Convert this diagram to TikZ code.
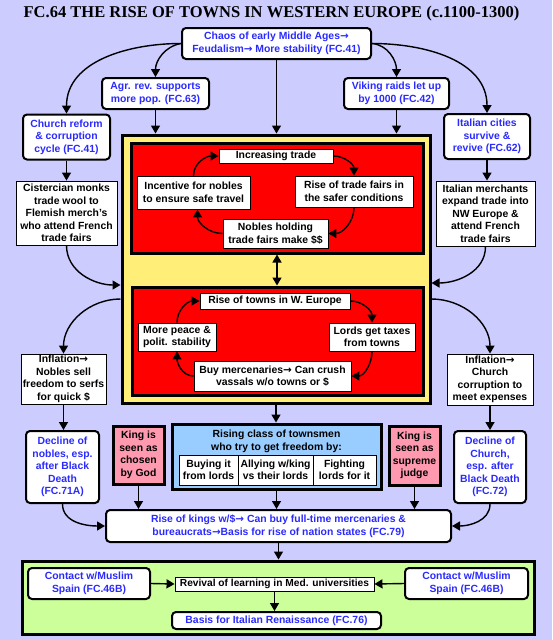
\documentclass[tikz,border=0pt]{standalone}
\usepackage{fontspec}
\setmainfont{Liberation Serif}
\setsansfont{Liberation Sans}
\newfontfamily\arrfont{DejaVu Sans}
\newcommand{\rarr}{{\arrfont\bfseries →}}
\usetikzlibrary{arrows.meta,calc}
\definecolor{bgc}{HTML}{CCCCFF}
\definecolor{yel}{HTML}{FFEE77}
\definecolor{redb}{HTML}{FF0000}
\definecolor{blueb}{HTML}{99CCFF}
\definecolor{pinkb}{HTML}{FF99B0}
\definecolor{greenb}{HTML}{CCFF99}
\definecolor{bluet}{HTML}{2A2AFF}
\tikzset{
 base/.style={align=center, inner sep=0pt, font=\sffamily\bfseries\fontsize{10.4}{12.5}\selectfont},
 sz/.style 2 args={minimum width=#1pt, minimum height=#2pt},
 rbox/.style={base, draw, rounded corners=4pt, line width=2pt, fill=white, text=bluet},
 sbox/.style={base, draw, line width=0.9pt, fill=white, text=black},
 bigbox/.style={draw, line width=3pt, inner sep=0pt},
 arr/.style={line width=1.4pt, -{Triangle[length=8pt,width=9pt]}},
 darr/.style={line width=1.4pt, {Triangle[length=8pt,width=9pt]}-{Triangle[length=8pt,width=9pt]}},
}
\begin{document}
\begin{tikzpicture}[x=1pt,y=-1pt]
\useasboundingbox (0,0) rectangle (552,640);
\fill[bgc] (0,0) rectangle (552,640);
\node[font=\rmfamily\bfseries\fontsize{16.5}{18}\selectfont, inner sep=0pt] (title) at (271.5,14) {FC.64 THE RISE OF TOWNS IN WESTERN EUROPE (c.1100-1300)};

% top
\node[rbox, sz={189}{31}] (top) at (276.5,43.5) {Chaos of early Middle Ages\rarr\\Feudalism\rarr\ More stability (FC.41)};
\node[rbox, sz={107}{31}] (agr) at (155.5,93.5) {Agr. rev. supports\\more pop. (FC.63)};
\node[rbox, sz={105}{31}] (vik) at (396.5,93.5) {Viking raids let up\\by 1000 (FC.42)};
\node[rbox, sz={87}{45}] (church) at (66.5,137) {Church reform\\\& corruption\\cycle (FC.41)};
\node[rbox, sz={86}{45}] (ital) at (487,136.5) {Italian cities\\survive \&\\revive (FC.62)};
\node[sbox, sz={101}{64}] (cist) at (66.5,213) {Cistercian monks\\trade wool to\\Flemish merch's\\who attend French\\trade fairs};
\node[sbox, sz={99}{65}] (merch) at (485.5,213.5) {Italian merchants\\expand trade into\\NW Europe \&\\attend French\\trade fairs};

% central boxes
\node[bigbox, fill=yel, sz={308}{268}] (yellow) at (276,269) {};
\node[bigbox, fill=redb, sz={292}{110}] (red1) at (277,198) {};
\node[bigbox, fill=redb, sz={291}{108}] (red2) at (277.5,341) {};

\node[sbox, sz={114}{14}] (inc) at (276,156) {Increasing trade};
\node[sbox, sz={113}{33}] (incent) at (193.5,192.5) {Incentive for nobles\\to ensure safe travel};
\node[sbox, sz={118}{31}] (fairs) at (354,191.5) {Rise of trade fairs in\\the safer conditions};
\node[sbox, sz={105}{29}] (nobles) at (275.5,233.5) {Nobles holding\\trade fairs make \$\$};

\node[sbox, sz={150}{16}] (towns) at (275,301) {Rise of towns in W. Europe};
\node[sbox, sz={78}{28}] (peace) at (177,337) {More peace \&\\polit. stability};
\node[sbox, sz={86}{28}] (lords) at (372,337) {Lords get taxes\\from towns};
\node[sbox, sz={157}{30}] (merc) at (272.5,376) {Buy mercenaries\rarr\ Can crush\\vassals w/o towns or \$};

% sides lower
\node[sbox, sz={85}{50}] (inflN) at (63.5,379) {Inflation\rarr\\Nobles sell\\freedom to serfs\\for quick \$};
\node[sbox, sz={86}{51}] (inflC) at (490,379.5) {Inflation\rarr\\Church\\corruption to\\meet expenses};
\node[rbox, sz={73}{72}] (decN) at (62.5,467) {Decline of\\nobles, esp.\\after Black\\Death\\(FC.71A)};
\node[rbox, sz={72}{72}] (decC) at (490,467) {Decline of\\Church,\\esp. after\\Black Death\\(FC.72)};
\node[bigbox, base, fill=pinkb, sz={51}{58}] (kgod) at (138.5,455) {King is\\seen as\\chosen\\by God};
\node[bigbox, base, fill=pinkb, sz={51}{59}] (kjud) at (414.5,455.5) {King is\\seen as\\supreme\\judge};

% townsmen
\node[bigbox, fill=blueb, sz={209}{65}] (blue) at (276.5,456.5) {};
\node[base] (bluetxt) at (276.5,441.5) {Rising class of townsmen\\who try to get freedom by:};
\node[sbox, sz={59}{30}] (buy) at (208.5,470) {Buying it\\from lords};
\node[sbox, sz={75}{30}] (ally) at (275.5,470) {Allying w/king\\vs their lords};
\node[sbox, sz={63}{30}] (fight) at (344.5,470) {Fighting\\lords for it};

\node[rbox, sz={345}{32}] (kings) at (278.5,526) {Rise of kings w/\$\rarr\ Can buy full-time mercenaries \&\\bureaucrats\rarr Basis for rise of nation states (FC.79)};

% green
\node[bigbox, fill=greenb, sz={512}{73}] (green) at (278,597.5) {};
\node[rbox, sz={122}{31}] (contL) at (89,583.5) {Contact w/Muslim\\Spain (FC.46B)};
\node[rbox, sz={123}{31}] (contR) at (466.5,583.5) {Contact w/Muslim\\Spain (FC.46B)};
\node[sbox, font=\sffamily\bfseries\fontsize{10.2}{12}\selectfont, sz={199}{14}] (revival) at (274.5,584) {Revival of learning in Med. universities};
\node[rbox, sz={209}{17}] (basis) at (276.5,620.5) {Basis for Italian Renaissance (FC.76)};

% connectors top
\draw[arr] (top.west) to[out=180,in=90] (church.north);
\draw[arr] (top.west) to[out=190,in=90] (agr.north);
\draw[arr] (top.east) to[out=-5,in=90] (vik.north);
\draw[arr] (top.east) to[out=0,in=90] (ital.north);
\draw[arr] (top.south) -- (top.south |- yellow.north);
\draw[arr] (agr.south) -- (agr.south |- yellow.north);
\draw[arr] (vik.south) -- (vik.south |- yellow.north);
\draw[arr] (church.south) -- (cist.north);
\draw[arr] (ital.south) -- (ital.south |- merch.north);
\draw[arr] (cist.south) to[out=-90,in=180] ([yshift=-16pt]yellow.west);
\draw[arr] (merch.south) to[out=-90,in=0] ([yshift=-14pt]yellow.east);

% cycles
\draw[arr] (inc.east) to[out=0,in=90] (fairs.north);
\draw[arr] (fairs.south) to[out=-90,in=0] (nobles.east);
\draw[arr] (nobles.west) to[out=180,in=-90] ([xshift=4pt]incent.south);
\draw[arr] (incent.north) to[out=90,in=180] (inc.west);
\draw[arr] (towns.east) to[out=0,in=90] (lords.north);
\draw[arr] (lords.south) to[out=-90,in=0] (merc.east);
\draw[arr] (merc.west) to[out=180,in=-90] (peace.south);
\draw[arr] (peace.north) to[out=90,in=180] (towns.west);
\draw[darr] (red1.south) -- (red1.south |- red2.north);

% lower
\draw[arr] ([yshift=-30pt]yellow.west) to[out=180,in=90] (inflN.north);
\draw[arr] ([yshift=-30pt]yellow.east) to[out=0,in=90] (inflC.north);
\draw[arr] (inflN.south) -- (inflN.south |- decN.north);
\draw[arr] (inflC.south) -- (inflC.south |- decC.north);
\draw[arr] (yellow.south) -- (yellow.south |- blue.north);
\draw[arr] (blue.south) -- (blue.south |- kings.north);
\draw[arr] (kgod.south) -- (kgod.south |- kings.north);
\draw[arr] (kjud.south) -- (kjud.south |- kings.north);
\draw[arr] (decN.south) to[out=-90,in=180] (kings.west);
\draw[arr] (decC.south) to[out=-90,in=0] (kings.east);
\draw[arr] (kings.south) -- (kings.south |- green.north);
\draw[arr] (contL.east) -- (revival.west);
\draw[arr] (contR.west) -- (revival.east);
\draw[arr] (revival.south) -- (revival.south |- basis.north);
\end{tikzpicture}
\end{document}
